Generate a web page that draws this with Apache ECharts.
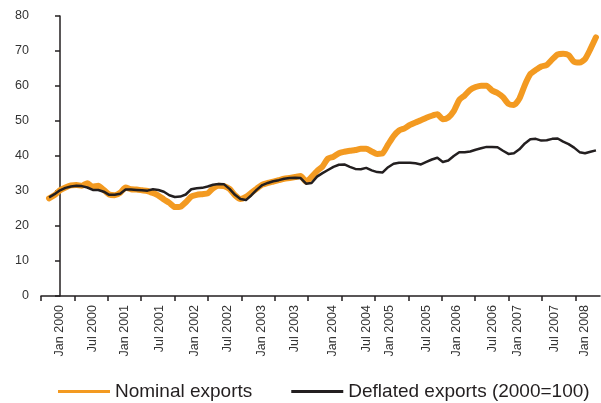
<!DOCTYPE html>
<html>
<head>
<meta charset="utf-8">
<script src="https://cdn.jsdelivr.net/npm/echarts@6.0.0/dist/echarts.min.js"></script>
<style>
  html, body { margin: 0; padding: 0; background: #fff; }
  #chart { width: 601px; height: 403px; }
</style>
</head>
<body>
<div id="chart"></div>
<script>
// months counted from Jan 2000; first point is Nov 1999
var firstMonth = -2;

// nominal exports, monthly Nov 1999 .. Mar 2008
var nominal = [
  27.9, 28.8,
  30.2, 31.0, 31.6, 31.7, 31.5, 32.2, 31.2, 31.5, 30.3, 29.0, 28.8, 29.5,
  31.0, 30.5, 30.4, 30.2, 30.0, 29.4, 28.7, 27.6, 26.6, 25.4, 25.5, 26.8,
  28.4, 28.9, 29.1, 29.3, 30.8, 31.5, 31.4, 30.6, 28.8, 27.7, 28.3, 29.5,
  30.7, 31.8, 32.3, 32.7, 33.1, 33.5, 33.7, 34.0, 34.3, 32.7, 34.0, 35.7,
  37.0, 39.3, 39.8, 40.8, 41.2, 41.5, 41.7, 42.1, 42.1, 41.3, 40.6, 40.8,
  43.3, 45.7, 47.3, 47.9, 48.9, 49.6, 50.2, 50.9, 51.5, 51.9, 50.5, 51.0,
  52.8, 56.0, 57.3, 58.9, 59.7, 60.1, 60.1, 58.7, 58.0, 56.8, 54.9, 54.6,
  56.4, 60.3, 63.4, 64.6, 65.6, 66.0, 67.6, 69.0, 69.2, 68.8, 66.9, 66.7,
  67.7, 70.6, 73.9
];

// deflated exports (2000=100), same months
var deflated = [
  28.2, 29.1,
  30.2, 30.9, 31.3, 31.5, 31.4, 31.0, 30.3, 30.3, 29.8, 28.9, 28.9, 29.2,
  30.4, 30.4, 30.3, 30.2, 30.1, 30.5, 30.3, 29.8, 28.8, 28.3, 28.4, 29.0,
  30.5, 30.8, 30.9, 31.3, 31.8, 32.0, 31.9, 30.6, 28.9, 27.7, 27.4, 28.8,
  30.4, 31.7, 32.3, 32.8, 33.1, 33.5, 33.7, 33.8, 33.7, 32.1, 32.3, 34.1,
  35.1, 36.0, 36.9, 37.5, 37.6, 36.9, 36.3, 36.2, 36.6, 35.9, 35.4, 35.3,
  36.8, 37.8, 38.1, 38.1, 38.1, 37.9, 37.6, 38.3, 39.0, 39.5, 38.3, 38.7,
  40.0, 41.1, 41.1, 41.3, 41.8, 42.2, 42.6, 42.6, 42.5, 41.5, 40.6, 40.8,
  41.9, 43.6, 44.8, 44.9, 44.4, 44.5, 44.9, 45.0, 44.1, 43.4, 42.4, 41.1,
  40.8, 41.2, 41.6
];

var tickLabels = ['Jan 2000', 'Jul 2000', 'Jan 2001', 'Jul 2001', 'Jan 2002', 'Jul 2002',
  'Jan 2003', 'Jul 2003', 'Jan 2004', 'Jul 2004', 'Jan 2005', 'Jul 2005', 'Jan 2006',
  'Jul 2006', 'Jan 2007', 'Jul 2007', 'Jan 2008'];
// where each label sits on the month scale
var labelAt = [0, 6.03, 11.88, 18.28, 24.68, 30.72, 36.94, 42.97, 49.92, 56.13,
  60.34, 67.1, 72.59, 79.17, 83.74, 90.51, 96.0];

var orange = '#F39A21', ink = '#231F20';
var xMin = -3.47, xMax = 98.74, tickStep = 6.107;
var tickAt = [];
for (var k = 0; k <= 16; k++) tickAt.push(xMin + k * tickStep);

function toPoints(arr) {
  return arr.map(function (v, i) { return [firstMonth + i, v]; });
}

var chart = echarts.init(document.getElementById('chart'));
chart.setOption({
  animation: false,
  textStyle: { fontFamily: 'Liberation Sans, Arial, sans-serif' },
  grid: { left: 41, right: 1, top: 16, bottom: 107, containLabel: false },
  legend: {
    left: 53, top: 377,
    itemWidth: 52, itemHeight: 3, itemGap: 39,
    textStyle: { fontSize: 19, color: ink },
    data: [
      { name: 'Nominal exports', icon: 'rect', itemStyle: { color: orange } },
      { name: 'Deflated exports (2000=100)', icon: 'rect', itemStyle: { color: ink } }
    ]
  },
  xAxis: {
    type: 'value', min: xMin, max: xMax,
    splitLine: { show: false },
    axisLine: { lineStyle: { color: ink, width: 1.5 } },
    axisTick: { customValues: tickAt, length: 5, lineStyle: { color: ink, width: 1.5 } },
    axisLabel: {
      customValues: labelAt, rotate: 90, margin: 9,
      fontSize: 12.5, color: '#333',
      formatter: function (v) {
        var i = labelAt.indexOf(v);
        return i >= 0 ? tickLabels[i] : '';
      }
    }
  },
  yAxis: {
    type: 'value', min: 0, max: 80, interval: 10,
    splitLine: { show: false },
    axisLine: { show: true, lineStyle: { color: ink, width: 1.5 } },
    axisTick: { show: true, length: 5, lineStyle: { color: ink, width: 1.5 } },
    axisLabel: { fontSize: 12.5, color: '#333', margin: 12 }
  },
  series: [
    {
      name: 'Nominal exports', type: 'line', data: toPoints(nominal),
      showSymbol: false, color: orange, smooth: 0.2,
      lineStyle: { color: orange, width: 6, cap: 'round', join: 'round' }
    },
    {
      name: 'Deflated exports (2000=100)', type: 'line', data: toPoints(deflated),
      showSymbol: false, color: ink,
      lineStyle: { color: ink, width: 2.5, join: 'round' }
    }
  ]
});
</script>
</body>
</html>
